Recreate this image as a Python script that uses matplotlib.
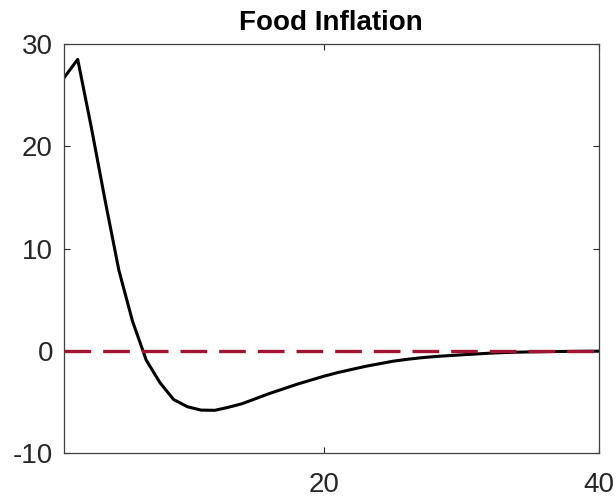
import numpy as np
import matplotlib
matplotlib.use('Agg')
import matplotlib.pyplot as plt

plt.rcParams['font.family'] = ['Liberation Sans', 'DejaVu Sans']
plt.rcParams['axes.unicode_minus'] = False

# Impulse response of food inflation, horizons 1..40
horizon = np.arange(1, 41)
response = [26.7, 28.5, 21.8, 14.7, 7.9, 2.9, -0.9, -3.1, -4.75, -5.45,
            -5.78, -5.8, -5.5, -5.15, -4.65, -4.15, -3.7, -3.25, -2.85, -2.45,
            -2.1, -1.8, -1.5, -1.25, -1.0, -0.82, -0.67, -0.55, -0.46, -0.38,
            -0.3, -0.22, -0.16, -0.12, -0.09, -0.07, -0.05, -0.04, -0.03, -0.02]
title = 'Food Inflation'
xticks = [20, 40]
yticks = [-10, 0, 10, 20, 30]

fig = plt.figure(figsize=(6.16, 4.99), dpi=100)
ax = fig.add_axes([0.1039, 0.0916, 0.8680, 0.8202])

ax.plot(horizon, response, color='black', lw=2.2, zorder=2)
ax.axhline(0, color='#A2142F', lw=2.4, dashes=(8, 3.6), zorder=3)

ax.set_xlim(1, 40)
ax.set_ylim(-10, 30)
ax.set_xticks(xticks)
ax.set_yticks(yticks)

ax.tick_params(direction='in', length=4, width=0.8, colors='#262626',
               labelsize=20, top=True, right=True)
ax.tick_params(axis='y', pad=8)
ax.tick_params(axis='x', pad=13.5)
for s in ax.spines.values():
    s.set_color('#404040')
    s.set_linewidth(0.9)

ax.set_title(title, fontsize=20, fontweight='bold', pad=10)

fig.savefig('out.png', dpi=100)
